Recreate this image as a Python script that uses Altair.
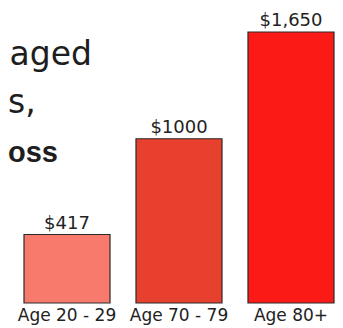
import altair as alt
import pandas as pd

ages = ["Age 20 - 29", "Age 70 - 79", "Age 80+"]
costs = [417, 1000, 1650]
cost_labels = ["$417", "$1000", "$1,650"]
bar_colors = ["#f87a6c", "#e8402e", "#fc1a16"]
notes = ["aged", "s,", "oss"]

FONT = "DejaVu Sans"

df = pd.DataFrame({"age": ages, "cost": costs, "label": cost_labels})

x = alt.X(
    "age:N",
    sort=ages,
    scale=alt.Scale(range=[16, 326], paddingInner=0.232, paddingOuter=0),
    axis=alt.Axis(
        title=None, labelAngle=0, domain=False, ticks=False, labelPadding=4,
        labelFontSize=17, labelFont=FONT, labelColor="#222222",
    ),
)
y = alt.Y("cost:Q", scale=alt.Scale(domain=[0, 1796], nice=False), axis=None)

base = alt.Chart(df)
bars = base.mark_bar(stroke="#2a2a2a", strokeWidth=1.2).encode(
    x=x,
    y=y,
    color=alt.Color("age:N", scale=alt.Scale(domain=ages, range=bar_colors), legend=None),
)
vals = base.mark_text(
    baseline="alphabetic", dy=-6, fontSize=18, font=FONT, color="#222222"
).encode(x=x, y=y, text="label:N")


def note(t, xp, yb, align, size=33, bold=False, font=FONT):
    return alt.Chart(pd.DataFrame({"t": [t]})).mark_text(
        align=align, baseline="alphabetic", x=xp, y=yb, fontSize=size,
        font=font, fontWeight="bold" if bold else "normal", color="#1e1e1e",
    ).encode(text="t:N")


n1 = note(notes[0], 84, 57, "right")
n2 = note(notes[1], 0, 105, "left")
n3 = note(notes[2], 0, 154, "left", size=29, bold=True, font="Liberation Sans")

chart = alt.layer(bars, vals, n1, n2, n3).properties(
    width=327,
    height=295,
    autosize="none",
    padding={"left": 0, "top": 0, "right": 0, "bottom": 25},
    background="white",
).configure_view(stroke=None)

chart.save("out.html", embed_options={"renderer": "svg", "actions": False})
